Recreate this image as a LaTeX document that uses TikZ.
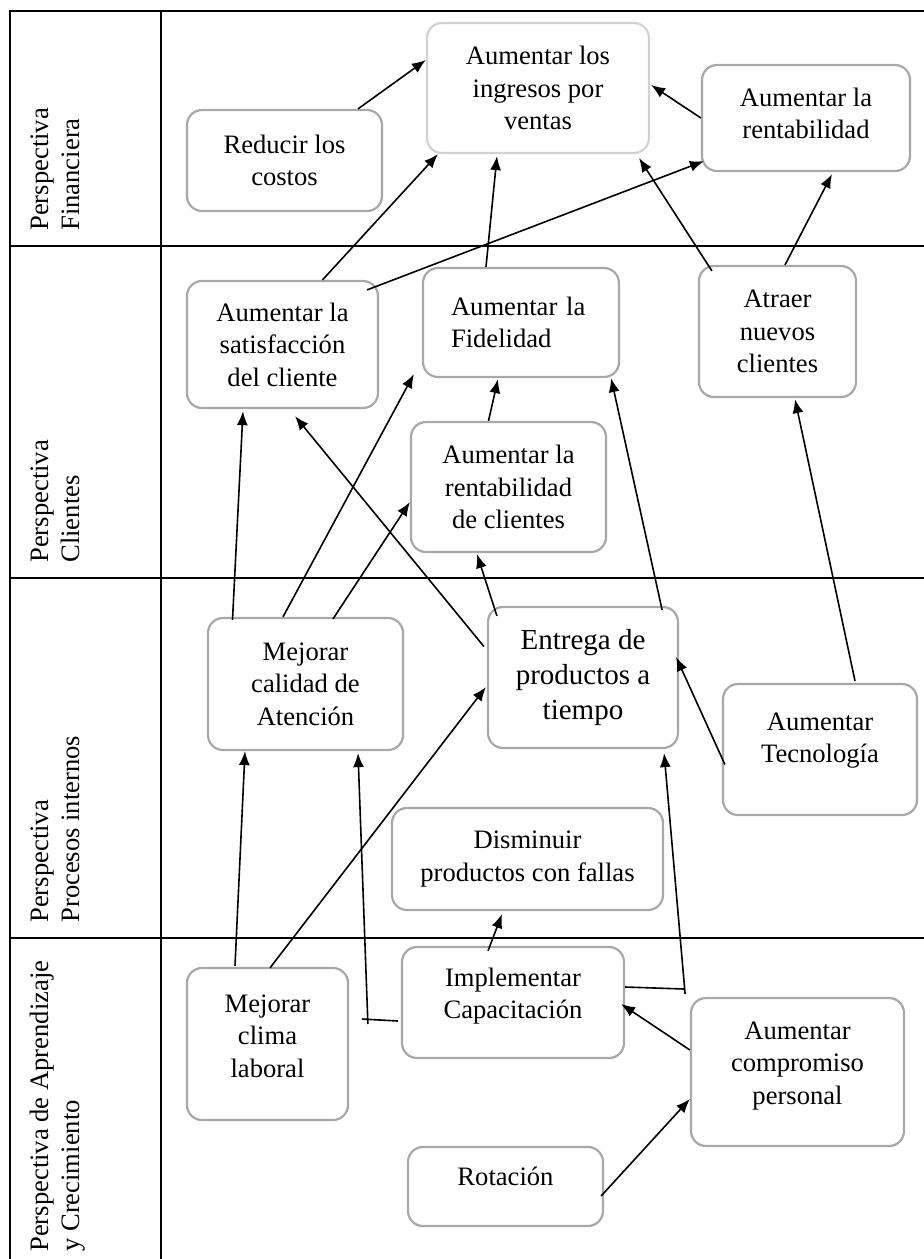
\documentclass[tikz,border=0pt]{standalone}
\usepackage{fontspec}
\setmainfont{Liberation Serif}
\usetikzlibrary{arrows.meta,calc}

\definecolor{boxgray}{HTML}{A8A8A8}
\definecolor{boxlight}{HTML}{D2D2D2}

\tikzset{
    obj/.style={draw=boxgray, line width=1.1pt, rounded corners=7.5pt, align=center,
        inner sep=2pt, font=\fontsize{13.3}{16.2}\selectfont},
    flecha/.style={line width=0.8pt, -{Latex[length=7pt,width=5.5pt]}},
    linea/.style={line width=0.8pt},
    tabla/.style={line width=1.2pt},
    etiq/.style={rotate=90, anchor=north west, align=left, inner sep=0pt,
        font=\fontsize{13.3}{15.5}\selectfont}
}

\begin{document}
\begin{tikzpicture}[x=0.5pt,y=-0.5pt]

    \fill[white] (0,0) rectangle (924,1259);
    \useasboundingbox (0,0) rectangle (924,1259);

    %TABLE
    \draw[tabla] (10,1259) -- (10,11) -- (924,11);
    \draw[tabla] (161,11) -- (161,1259);
    \foreach \y in {246,578,938}{	%row borders
        \draw[tabla] (10,\y) -- (924,\y);
    }

    %perspectives (rotated, from the bottom of each row)
    \node[etiq] (lfin) at (30,231) {Perspectiva\\Financiera};
    \node[etiq] (lcli) at (30,563) {Perspectiva\\Clientes};
    \node[etiq] (lpro) at (30,923) {Perspectiva\\Procesos internos};
    \node[etiq] (lapr) at (30,1252) {Perspectiva de Aprendizaje\\y Crecimiento};

    %FINANCIERA
    \node[obj, minimum width=97.5pt, minimum height=50.5pt] (costos) at (284.5,160.5) {Reducir los\\costos};
    \node[obj, draw=boxlight, minimum width=111pt, minimum height=65pt] (ingresos) at (538,88) {Aumentar los\\ingresos por\\ventas};
    \node[obj, minimum width=104pt, minimum height=53pt, text depth=5pt] (rentab) at (806,118) {Aumentar la\\rentabilidad};

    %CLIENTES
    \node[obj, minimum width=95.5pt, minimum height=63.5pt] (satisf) at (282.5,344.5) {Aumentar la\\satisfacción\\del cliente};
    \node[obj, minimum width=98pt, minimum height=54.5pt, align=left, text width=70pt] (fidel) at (521,322.5) {Aumentar la\\Fidelidad};
    \node[obj, minimum width=78.5pt, minimum height=65.5pt] (atraer) at (777.5,331.5) {Atraer\\nuevos\\clientes};
    \node[obj, minimum width=97.5pt, minimum height=65pt] (rclientes) at (508.5,487) {Aumentar la\\rentabilidad\\de clientes};

    %PROCESOS INTERNOS
    \node[obj, minimum width=97.5pt, minimum height=66pt] (calidad) at (305.5,684) {Mejorar\\calidad de\\Atención};
    \node[obj, minimum width=95pt, minimum height=70.5pt, font=\fontsize{14.5}{17.5}\selectfont] (entrega) at (583,677.5) {Entrega de\\productos a\\tiempo};
    \node[obj, minimum width=97pt, minimum height=65.5pt, text depth=12pt] (tecno) at (820,749.5) {Aumentar\\Tecnología};
    \node[obj, minimum width=135.5pt, minimum height=51pt] (disminuir) at (527.5,859) {Disminuir\\productos con fallas};

    %APRENDIZAJE Y CRECIMIENTO
    \node[obj, minimum width=111pt, minimum height=55.5pt, text depth=9pt] (implem) at (513,1002.5) {Implementar\\Capacitación};
    \node[obj, minimum width=80.5pt, minimum height=76pt, text depth=8pt] (clima) at (267.5,1044) {Mejorar\\clima\\laboral};
    \node[obj, minimum width=106.5pt, minimum height=74pt, text depth=9pt] (compromiso) at (797.5,1072) {Aumentar\\compromiso\\personal};
    \node[obj, minimum width=97.5pt, minimum height=39.5pt, text depth=10pt] (rotacion) at (505.5,1186.5) {Rotación};

    %ARROWS
    \draw[flecha] ($(costos.north)+(73.5,0)$) -- ($(ingresos.west)+(0,-28)$);
    \draw[flecha] (rentab.west) -- ($(ingresos.east)+(1,-3)$);
    \draw[flecha] ($(satisf.north)+(40,0)$) -- ($(ingresos.south)+(-100,0)$);
    \draw[flecha] ($(satisf.north east)+(-12,10)$) -- ($(rentab.south west)+(3,-11)$);
    \draw[flecha] ($(fidel.north)+(-35,0)$) -- ($(ingresos.south)+(-41,2)$);
    \draw[flecha] ($(atraer.north west)+(14,6)$) -- ($(ingresos.south east)+(-11,4)$);
    \draw[flecha] ($(atraer.north)+(7.5,0)$) -- ($(rentab.south)+(26,2)$);
    \draw[flecha] ($(rclientes.north)+(-20,0)$) -- ($(fidel.south)+(-23,1)$);

    \draw[flecha] ($(calidad.north)+(-73,3)$) -- ($(satisf.south)+(-39.5,2)$);
    \draw[flecha] ($(calidad.north)+(-22.5,0)$) -- ($(fidel.south west)+(-8,-4)$);
    \draw[flecha] ($(calidad.north)+(27.5,2)$) -- ($(rclientes.west)+(0,15)$);
    \draw[flecha] ($(entrega.west)+(-3,-31)$) -- ($(satisf.south)+(12.5,7)$);
    \draw[flecha] ($(entrega.north west)+(10,10)$) -- ($(rclientes.south)+(-31.5,1)$);
    \draw[flecha] ($(entrega.north east)+(-17,4)$) -- ($(fidel.south east)+(-9,0)$);
    \draw[flecha] ($(tecno.north)+(35,-2)$) -- ($(atraer.south)+(17.5,1)$);
    \draw[flecha] ($(tecno.west)+(3,15)$) -- ($(entrega.east)+(-3,-20.5)$);

    \draw[flecha] ($(clima.north)+(-32.5,-1)$) -- ($(calidad.south)+(-60.5,0)$);
    \draw[flecha] ($(clima.north)+(2.5,1)$) -- ($(entrega.west)+(-1,9.5)$);
    \draw[flecha] ($(implem.north)+(-25,5)$) -- ($(disminuir.south)+(-25.5,3)$);
    \draw[flecha] ($(compromiso.west)+(0,-22)$) -- ($(implem.east)+(-4,1.5)$);
    \draw[flecha] ($(rotacion.east)+(-3,9.5)$) -- ($(compromiso.west)+(0,27)$);

    %capacitacion: elbow lines
    \coordinate (k1) at ($(implem.west)+(-39,16.5)$);
    \coordinate (k2) at ($(implem.west)+(-33,21.5)$);
    \coordinate (k3) at ($(implem.east)+(59,-13.5)$);
    \coordinate (k4) at ($(implem.east)+(60,-8.5)$);
    \draw[linea] ($(implem.west)+(-3,18.5)$) -- (k1);
    \draw[flecha] (k2) -- ($(calidad.south)+(52.5,2)$);
    \draw[linea] ($(implem.east)+(0,-15.5)$) -- (k3);
    \draw[flecha] (k4) -- ($(entrega.south east)+(-15,4)$);

\end{tikzpicture}
\end{document}
